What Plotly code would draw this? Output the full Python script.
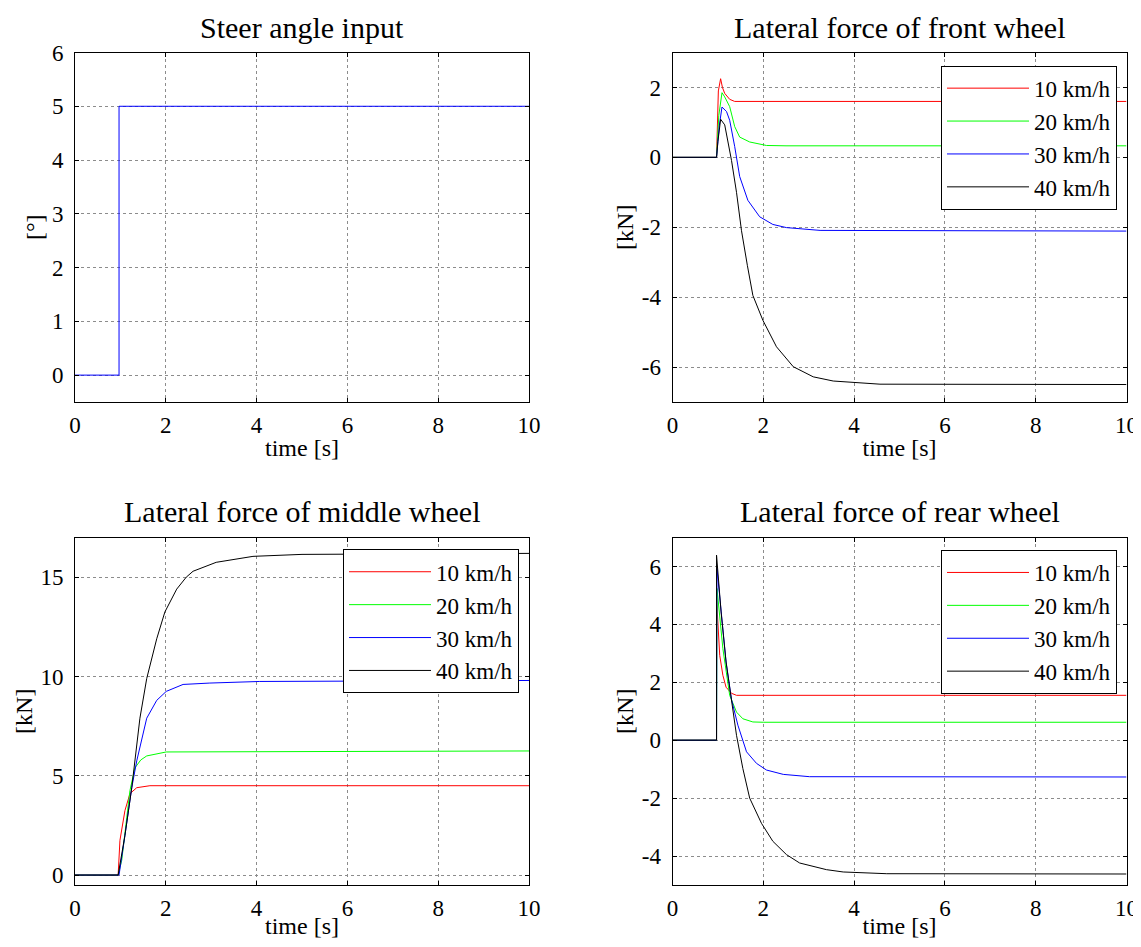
import plotly.graph_objects as go

# ---------------- data ----------------
speeds = ["10 km/h", "20 km/h", "30 km/h", "40 km/h"]
colors = ["#ff0000", "#00ff00", "#0000ff", "#000000"]

steer_t = [0, 0.97, 0.97, 10]
steer_deg = [0, 0, 5, 5]

front_t_10 = [0, 0.97, 1.01, 1.06, 1.10, 1.15, 1.26, 1.37, 10]
front_10 = [0, 0, 1.9, 2.25, 2.0, 1.83, 1.66, 1.6, 1.6]
front_t_20 = [0, 0.97, 1.02, 1.09, 1.15, 1.26, 1.37, 1.48, 1.70, 2.07, 2.5, 10]
front_20 = [0, 0, 1.2, 1.85, 1.73, 1.45, 0.88, 0.58, 0.44, 0.34, 0.33, 0.33]
front_t_30 = [0, 0.97, 1.03, 1.09, 1.19, 1.26, 1.37, 1.48, 1.66, 1.92, 2.21, 2.51, 3.25, 10]
front_30 = [0, 0, 0.9, 1.44, 1.31, 1.06, 0.31, -0.55, -1.23, -1.70, -1.92, -2.01, -2.09, -2.11]
front_t_40 = [0, 0.97, 1.0, 1.06, 1.15, 1.22, 1.30, 1.41, 1.52, 1.65, 1.77, 1.99, 2.29, 2.66, 3.10, 3.54, 3.98, 4.57, 10]
front_40 = [0, 0, 0.45, 1.09, 0.93, 0.49, -0.09, -1.0, -2.1, -3.1, -3.95, -4.66, -5.42, -5.99, -6.28, -6.40, -6.44, -6.49, -6.5]

middle_t_10 = [0, 0.95, 0.99, 1.10, 1.21, 1.36, 1.65, 10]
middle_10 = [0, 0, 1.75, 3.25, 4.1, 4.4, 4.5, 4.5]
middle_t_20 = [0, 0.95, 1.03, 1.21, 1.32, 1.45, 1.58, 2.01, 10]
middle_20 = [0, 0, 0.75, 4.25, 5.4, 5.8, 6.0, 6.2, 6.25]
middle_t_30 = [0, 0.97, 1.10, 1.25, 1.36, 1.58, 1.80, 2.01, 2.38, 2.97, 4.07, 10]
middle_30 = [0, 0, 2.0, 4.4, 5.75, 7.9, 8.8, 9.25, 9.6, 9.67, 9.75, 9.8]
middle_t_40 = [0, 0.95, 1.10, 1.25, 1.43, 1.58, 1.80, 1.98, 2.24, 2.45, 2.60, 3.11, 3.92, 5.0, 10]
middle_40 = [0, 0, 2.0, 4.4, 7.9, 9.9, 11.9, 13.25, 14.4, 15.0, 15.3, 15.75, 16.05, 16.15, 16.2]

rear_t_10 = [0, 0.97, 0.97, 1.04, 1.11, 1.18, 1.30, 1.41, 10]
rear_10 = [0, 0, 4.9, 2.93, 2.24, 1.83, 1.62, 1.55, 1.55]
rear_t_20 = [0, 0.97, 0.98, 1.11, 1.26, 1.41, 1.55, 1.77, 2.0, 10]
rear_20 = [0, 0, 5.24, 3.16, 1.55, 0.97, 0.74, 0.63, 0.62, 0.62]
rear_t_30 = [0, 0.97, 0.98, 1.18, 1.30, 1.44, 1.63, 1.85, 2.07, 2.44, 3.02, 10]
rear_30 = [0, 0, 5.93, 2.70, 1.4, 0.52, -0.40, -0.80, -1.03, -1.18, -1.26, -1.27]
rear_t_40 = [0, 0.97, 0.97, 1.07, 1.18, 1.30, 1.41, 1.55, 1.70, 1.96, 2.21, 2.51, 2.80, 3.39, 3.76, 4.72, 10]
rear_40 = [0, 0, 6.39, 4.43, 2.70, 1.32, 0.17, -0.98, -2.0, -2.87, -3.49, -3.95, -4.24, -4.47, -4.55, -4.61, -4.62]

x_ticks = [0, 2, 4, 6, 8, 10]
steer_ticks = [0, 1, 2, 3, 4, 5, 6]
front_ticks = [-6, -4, -2, 0, 2]
middle_ticks = [0, 5, 10, 15]
rear_ticks = [-4, -2, 0, 2, 4, 6]
titles = ["Steer angle input", "Lateral force of front wheel",
          "Lateral force of middle wheel", "Lateral force of rear wheel"]

# ---------------- figure ----------------
PAGE_W, PAGE_H = 1141, 947
OFF = 8  # default body margin of the html page
FW, FH = PAGE_W - OFF, PAGE_H - 2 * OFF
FONT = "Liberation Serif"
fig = go.Figure()

fig.add_trace(go.Scatter(x=steer_t, y=steer_deg, mode="lines",
                         line=dict(color="#0000ff", width=1), showlegend=False,
                         xaxis="x", yaxis="y"))

panels = [
    ("x2", "y2", "legend", [(front_t_10, front_10), (front_t_20, front_20),
                            (front_t_30, front_30), (front_t_40, front_40)]),
    ("x3", "y3", "legend2", [(middle_t_10, middle_10), (middle_t_20, middle_20),
                             (middle_t_30, middle_30), (middle_t_40, middle_40)]),
    ("x4", "y4", "legend3", [(rear_t_10, rear_10), (rear_t_20, rear_20),
                             (rear_t_30, rear_30), (rear_t_40, rear_40)]),
]
for xa, ya, lg, series in panels:
    for (t, v), name, c in zip(series, speeds, colors):
        fig.add_trace(go.Scatter(x=t, y=v, mode="lines", name=name,
                                 line=dict(color=c, width=1),
                                 xaxis=xa, yaxis=ya, legend=lg))


def px(v):
    return (v - OFF) / FW


def py(v):
    return 1 - (v - OFF) / FH


left_dom = [px(75), px(529)]
right_dom = [px(672.5), px(1126.5)]
top_dom = [py(402), py(52.5)]
bot_dom = [py(885), py(537.5)]


def fmt(v):
    return str(v)


def xaxis(domain, anchor):
    return dict(domain=domain, anchor=anchor, range=[0, 10],
                tickvals=x_ticks, ticktext=[fmt(v) for v in x_ticks],
                showline=True, linecolor="black", linewidth=1, mirror="ticks",
                ticks="inside", ticklen=4, tickcolor="black",
                showgrid=True, gridcolor="#8c8c8c", griddash="dot", gridwidth=1,
                zeroline=False, tickfont=dict(family=FONT, size=23, color="black"),
                ticklabelstandoff=2, ticklabeloverflow="allow",
                title=dict(text="time [s]", font=dict(family=FONT, size=24, color="black"),
                           standoff=2),
                automargin=False)


def yaxis(domain, anchor, rng, ticks, label):
    return dict(domain=domain, anchor=anchor, range=rng,
                tickvals=ticks, ticktext=[fmt(v) for v in ticks],
                showline=True, linecolor="black", linewidth=1, mirror="ticks",
                ticks="inside", ticklen=4, tickcolor="black",
                showgrid=True, gridcolor="#8c8c8c", griddash="dot", gridwidth=1,
                zeroline=False, tickfont=dict(family=FONT, size=23, color="black"),
                ticklabelstandoff=6, ticklabeloverflow="allow",
                title=dict(text=label, font=dict(family=FONT, size=24, color="black"),
                           standoff=1),
                automargin=False)


legend_style = dict(bgcolor="white", bordercolor="black", borderwidth=1,
                    font=dict(family=FONT, size=23, color="black"),
                    itemwidth=82, xanchor="right", yanchor="top",
                    tracegroupgap=0)

fig.update_layout(
    width=FW, height=FH,
    margin=dict(l=0, r=0, t=0, b=0, autoexpand=False),
    paper_bgcolor="white", plot_bgcolor="white",
    xaxis=xaxis(left_dom, "y"), yaxis=yaxis(top_dom, "x", [-0.5, 6], steer_ticks, "[°]"),
    xaxis2=xaxis(right_dom, "y2"), yaxis2=yaxis(top_dom, "x2", [-7, 3], front_ticks, "[kN]"),
    xaxis3=xaxis(left_dom, "y3"), yaxis3=yaxis(bot_dom, "x3", [-0.5, 17], middle_ticks, "[kN]"),
    xaxis4=xaxis(right_dom, "y4"), yaxis4=yaxis(bot_dom, "x4", [-5, 7], rear_ticks, "[kN]"),
    legend=dict(x=px(1117), y=py(65.7), **legend_style),
    legend2=dict(x=px(519), y=py(549.3), **legend_style),
    legend3=dict(x=px(1117), y=py(550), **legend_style),
)

title_pos = [(302, 28), (899.5, 28), (302, 511), (899.5, 511)]
for txt, (tx, ty) in zip(titles, title_pos):
    fig.add_annotation(text=txt, x=px(tx), y=py(ty), xref="paper", yref="paper",
                       xanchor="center", yanchor="middle", showarrow=False,
                       font=dict(family=FONT, size=30, color="black"))

fig.write_html("out.html")
